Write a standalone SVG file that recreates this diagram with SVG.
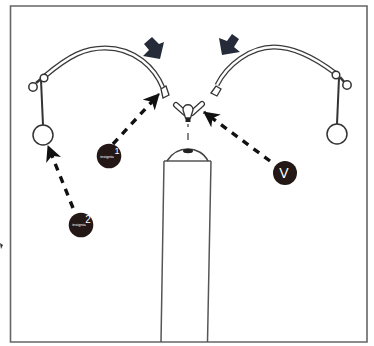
<svg xmlns="http://www.w3.org/2000/svg" width="374" height="346" viewBox="0 0 374 346">
<defs>
<marker id="head" markerUnits="userSpaceOnUse" markerWidth="18" markerHeight="18" refX="15" refY="8" orient="auto">
<path d="M0,0 L16,8 L0,16 L4.500,8 Z" fill="#111"/>
</marker>
</defs>
<style>
.line{fill:none;stroke:#444;stroke-width:1.5}
.thick{fill:none;stroke:#3a3a3a;stroke-width:5}
.inner{fill:none;stroke:#fff;stroke-width:2.400}
.white{fill:#fff;stroke:#333;stroke-width:1.500}
.dash{fill:none;stroke:#111;stroke-width:3.400;stroke-dasharray:7 6.500;marker-end:url(#head)}
.badge{fill:#231815}
.num{font-family:"Liberation Sans",Arial,sans-serif;fill:#fff}
.big{fill:#252b38}
.wingo{fill:none;stroke:#333;stroke-width:6;stroke-linecap:round}
.wingi{fill:none;stroke:#fff;stroke-width:3.600;stroke-linecap:round}
</style>
<rect width="374" height="346" fill="#fff"/>
<path id="frame-border" d="M10.500,6 H367 V342 H10.500 Z" fill="none" stroke="#666" stroke-width="1.600"/>
<path id="edge-mark" d="M0,243 L3,245 L1,249 Z" fill="#333"/>
<g id="post">
<path d="M164,161 L161,342 M211,161 L207.500,342 M164,161 H211" fill="none" stroke="#555" stroke-width="1.500"/>
<path d="M167,161 C172,153 180,149 188,149 C196,149 204,153 208,161" class="line"/>
<ellipse cx="188" cy="151" rx="5" ry="2.200" fill="#222"/>
</g>
<g id="left-spring">
<path class="thick" d="M45,76 C70,55 85,48 105,48 C135,48 155,68 163,88"/>
<path class="inner" d="M45,76 C70,55 85,48 105,48 C135,48 155,68 163,88"/>
<path d="M161,89 L166,86 L169,95 L163,98 Z" fill="#fff" stroke="#333" stroke-width="1.300"/>
<path d="M41,80 L43,125" fill="none" stroke="#333" stroke-width="2"/>
<path d="M36,83 L42,78" fill="none" stroke="#333" stroke-width="2.500"/>
<circle class="white" cx="33" cy="87" r="4.200"/>
<circle class="white" cx="44" cy="78" r="3.800"/>
<circle class="white" cx="43" cy="135" r="10"/>
</g>
<g id="right-spring">
<path class="thick" d="M217,85 C227,65 250,47 274,47 C295,47 315,58 335,73"/>
<path class="inner" d="M217,85 C227,65 250,47 274,47 C295,47 315,58 335,73"/>
<path d="M211,93 L216,86 L221,89 L217,96 Z" fill="#fff" stroke="#333" stroke-width="1.300"/>
<path d="M339,78 L337,124" fill="none" stroke="#333" stroke-width="2"/>
<path d="M340,77 L345,83" fill="none" stroke="#333" stroke-width="2.500"/>
<circle class="white" cx="347" cy="85" r="4.200"/>
<circle class="white" cx="336" cy="75" r="3.800"/>
<circle class="white" cx="337" cy="134" r="10"/>
</g>
<g id="wing-nut">
<path class="wingo" d="M176,105 L185,113 M202,104 L192,113"/>
<path class="wingi" d="M176,105 L185,113 M202,104 L192,113"/>
<path d="M183,110 C183,103 193,103 193,110 L190.500,118 H185.500 Z" fill="#fff" stroke="#333" stroke-width="1.300"/>
<rect x="185.500" y="118" width="5" height="4" fill="#222"/>
<path d="M188,124 V127 M188,133 V140" fill="none" stroke="#444" stroke-width="1.300"/>
</g>
<g id="press-arrows">
<path id="arrow-left" class="big" d="M144,44 L152,37 L159,44 L164,42 L160,59 L143,56 L149,50 Z"/>
<path id="arrow-right" class="big" d="M219,38 L222,55 L240,52 L234,47 L239,39 L232,34 L227,41 Z"/>
</g>
<g id="connectors">
<path class="dash" d="M113,144 L159,94"/>
<path class="dash" d="M73,208 L48,146"/>
<path class="dash" d="M270,161 L204,112"/>
</g>
<g id="badge-1">
<circle class="badge" cx="109" cy="156" r="12.300"/>
<text class="num" x="107" y="158" font-size="4" text-anchor="middle">insignia</text>
<text class="num" x="117" y="154" font-size="9" text-anchor="middle">1</text>
</g>
<g id="badge-2">
<circle class="badge" cx="81" cy="225" r="12.300"/>
<text class="num" x="79" y="226" font-size="4" text-anchor="middle">insignia</text>
<text class="num" x="88" y="223" font-size="10" text-anchor="middle">2</text>
</g>
<g id="badge-v">
<circle class="badge" cx="285" cy="173" r="12"/>
<text class="num" x="284" y="178" font-size="14" text-anchor="middle">V</text>
</g>
</svg>
